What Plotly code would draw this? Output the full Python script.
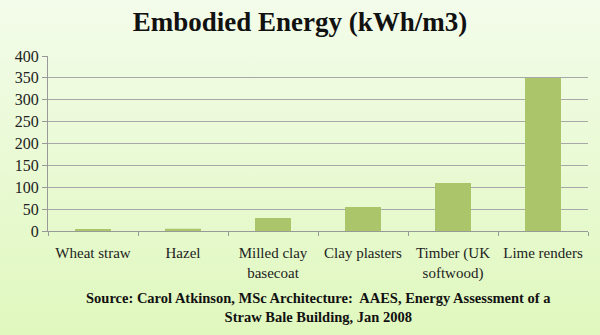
import base64
import plotly.graph_objects as go

categories = ["Wheat straw", "Hazel", "Milled clay<br>basecoat", "Clay plasters", "Timber (UK<br>softwood)", "Lime renders"]
values = [3, 5, 30, 55, 110, 350]
y_ticks = [0, 50, 100, 150, 200, 250, 300, 350, 400]

W, H = 600, 335
ml, mr, mt, mb = 48, 12, 56, 104
pw, ph = W - ml - mr, H - mt - mb

svg = ('<svg xmlns="http://www.w3.org/2000/svg" width="600" height="335" preserveAspectRatio="none">'
       '<defs><linearGradient id="g" x1="0" y1="0" x2="0" y2="1">'
       '<stop offset="0" stop-color="#f3fcea"/><stop offset="1" stop-color="#e0f8be"/>'
       '</linearGradient></defs><rect width="600" height="335" fill="url(#g)"/></svg>')
src = "data:image/svg+xml;base64," + base64.b64encode(svg.encode()).decode()

font = "Liberation Serif"

fig = go.Figure(go.Bar(
    x=categories, y=values, marker=dict(color="#abc56b", line=dict(width=0)),
))

fig.update_layout(
    width=W, height=H,
    margin=dict(l=ml, r=mr, t=mt, b=mb),
    paper_bgcolor="#ecfad8", plot_bgcolor="white",
    bargap=0.6, showlegend=False,
    title=dict(text="<b>Embodied Energy (kWh/m3)</b>", x=0.5, xanchor="center",
               y=1 - 22 / H, yanchor="middle",
               font=dict(family=font, size=27, color="#111")),
    images=[dict(source=src, xref="paper", yref="paper", x=-ml / pw, y=1 + mt / ph,
                 sizex=W / pw, sizey=H / ph, sizing="stretch", layer="below",
                 xanchor="left", yanchor="top")],
    annotations=[dict(
        text="<b>Source: Carol Atkinson, MSc Architecture:  AAES, Energy Assessment of a<br>Straw Bale Building, Jan 2008</b>",
        xref="paper", yref="paper", x=(318 - ml) / pw, y=-(307 - mt - ph) / ph,
        xanchor="center", yanchor="middle", showarrow=False,
        font=dict(family=font, size=14.5, color="#111"), align="center")],
)

fig.update_xaxes(
    tickson="boundaries", ticks="outside", ticklen=4, tickcolor="#999",
    showline=True, linecolor="#999", linewidth=1, showgrid=False,
    tickfont=dict(family=font, size=15, color="#222"), tickangle=0,
    ticklabelstandoff=8,
)
fig.update_yaxes(
    range=[0, 400], tickvals=y_ticks, ticks="outside", ticklen=5, tickcolor="#999",
    showline=True, linecolor="#999", linewidth=1,
    showgrid=True, gridcolor="#a8a8a8", gridwidth=1, zeroline=False,
    tickfont=dict(family=font, size=16, color="#222"), ticklabelstandoff=0,
)

fig.write_html("out.html")
